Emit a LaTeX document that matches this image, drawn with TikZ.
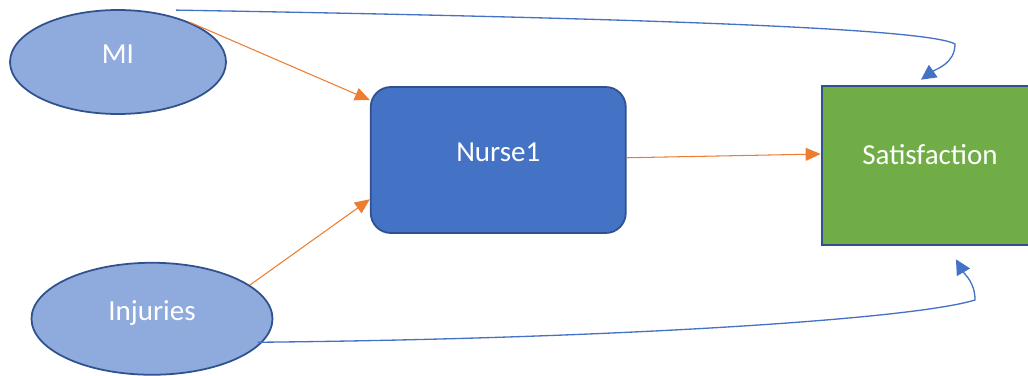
\documentclass[tikz,border=0pt]{standalone}
\usepackage{fontspec}
\setmainfont{Carlito}
\usepackage{tikz}
\usetikzlibrary{shapes.geometric, arrows.meta, positioning, calc}
\definecolor{edge}{RGB}{47, 82, 143}
\definecolor{ellbg}{RGB}{143, 170, 220}
\definecolor{nursebg}{RGB}{68, 114, 196}
\definecolor{satbg}{RGB}{112, 173, 71}
\definecolor{orangeln}{RGB}{237, 125, 49}
\definecolor{blueln}{RGB}{68, 114, 196}
\tikzset{
    font=\fontsize{16.5}{19}\selectfont,
    factor/.style={ellipse, draw=edge, fill=ellbg, line width=1pt, text=white, inner sep=0pt, text height=0.37cm, text depth=0.3cm},
    mediator/.style={rectangle, rounded corners=0.4cm, draw=edge, fill=nursebg, line width=1pt, text=white, minimum width=5.1cm, minimum height=2.92cm, text height=0.37cm, text depth=0.32cm},
    outcome/.style={rectangle, draw=edge, fill=satbg, line width=1.5pt, text=white, minimum width=4.32cm, minimum height=3.18cm, text height=0.37cm, text depth=0.4cm},
    arrow/.style={-{Triangle[length=0.3cm, width=0.26cm]}, line width=0.6pt, color=orangeln},
    direct/.style={-{Triangle[length=0.3cm, width=0.3cm]}, line width=0.75pt, color=blueln}
}
\begin{document}
\begin{tikzpicture}
    \clip (0,0) rectangle (20.56,7.5);

    % Factors
    \node (mi) [factor, minimum width=4.32cm, minimum height=2.08cm] at (2.36,6.26) {MI};
    \node (inj) [factor, minimum width=4.82cm, minimum height=2.24cm, below=2.94cm of mi, xshift=0.68cm] {Injuries};

    % Mediator and outcome
    \node (nurse) [mediator, right=2.86cm of mi, yshift=-1.96cm] {Nurse1};
    \node (sat) [outcome, right=3.88cm of nurse, yshift=-0.11cm] {Satisfaction};

    % Paths: indirect
    \draw [arrow] (mi.29) -- (nurse.155);
    \draw [arrow] (inj.19) -- (nurse.197);
    \draw [arrow] (nurse.1) -- (sat.174);

    % Paths: direct
    \coordinate (topBend) at (19.1,6.62);
    \coordinate (botBend) at (19.5,1.5);
    \draw [direct] ([xshift=1.16cm, yshift=-0.02cm]mi.north) .. controls (14.0,7.12) and (18.6,6.9) .. (topBend) to[out=-90, in=35] ([xshift=-0.18cm, yshift=0.1cm]sat.north);
    \draw [direct] ([xshift=-0.1cm]inj.-12) .. controls (12.0,0.72) and (18.2,1.1) .. (botBend) to[out=90, in=-60] ([xshift=0.52cm, yshift=-0.26cm]sat.south);

\end{tikzpicture}
\end{document}
